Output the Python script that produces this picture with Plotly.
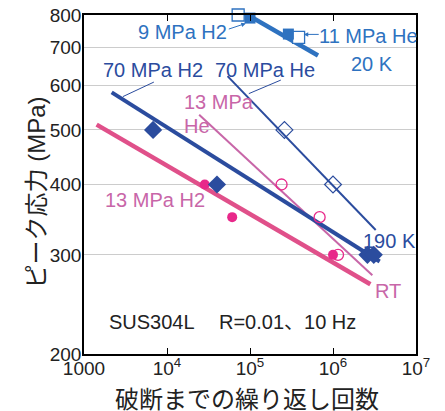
import numpy as np
import plotly.graph_objects as go

# ---- data ----
# 20 K
k20_h2_x = [1.0e5, 2.9e5]
k20_h2_y = [790, 740]
k20_he_x = [7.2e4, 3.85e5]
k20_he_y = [800, 730]
k20_fit_x = [6.27e4, 6.6e5]
k20_fit_y = [828, 678]

# 190 K, 70 MPa
k190_h2_x = [6.8e3, 4.0e4, 2.6e6, 3.1e6]
k190_h2_y = [500, 400, 300, 300]
k190_h2_fit_x = [2155, 3.65e6]
k190_h2_fit_y = [583, 292]
k190_he_x = [2.6e5, 1.0e6]
k190_he_y = [500, 400]
k190_he_fit_x = [5.36e4, 3.27e6]
k190_he_fit_y = [623, 332]

# RT, 13 MPa
rt_he_x = [2.4e5, 6.9e5, 1.15e6]
rt_he_y = [400, 350, 300]
rt_he_fit_x = [2.44e4, 2.98e6]
rt_he_fit_y = [532, 276]
rt_h2_x = [2.85e4, 6.1e4, 1.0e6]
rt_h2_y = [400, 350, 300]
rt_h2_fit_x = [1.42e3, 2.82e6]
rt_h2_fit_y = [511, 266]

x_tickvals = [1e3, 1e4, 1e5, 1e6, 1e7]
x_ticktext = ["1000", "10<sup>4</sup>", "10<sup>5</sup>", "10<sup>6</sup>", "10<sup>7</sup>"]
y_tickvals = [200, 300, 400, 500, 600, 700, 800]
x_title = "破断までの繰り返し回数"
y_title = "ピーク応力 (MPa)"

BLUE = "#2E72C0"
DBLUE = "#2B4C9E"
PINK = "#E0508A"
ORCHID = "#C866A8"
CPINK = "#E8288A"

FONT = "Liberation Sans, Arial, Noto Sans CJK JP, sans-serif"

fig = go.Figure()

# fit lines
fig.add_trace(go.Scatter(x=rt_h2_fit_x, y=rt_h2_fit_y, mode="lines",
                         line=dict(color=PINK, width=4.5), showlegend=False))
fig.add_trace(go.Scatter(x=rt_he_fit_x, y=rt_he_fit_y, mode="lines",
                         line=dict(color=ORCHID, width=2), showlegend=False))
fig.add_trace(go.Scatter(x=k190_h2_fit_x, y=k190_h2_fit_y, mode="lines",
                         line=dict(color=DBLUE, width=4), showlegend=False))
fig.add_trace(go.Scatter(x=k190_he_fit_x, y=k190_he_fit_y, mode="lines",
                         line=dict(color=DBLUE, width=2), showlegend=False))
fig.add_trace(go.Scatter(x=k20_fit_x, y=k20_fit_y, mode="lines",
                         line=dict(color=BLUE, width=4.5), showlegend=False))

# markers
fig.add_trace(go.Scatter(x=rt_h2_x, y=rt_h2_y, mode="markers", cliponaxis=False,
                         marker=dict(symbol="circle", size=10, color=CPINK),
                         showlegend=False))
fig.add_trace(go.Scatter(x=rt_he_x, y=rt_he_y, mode="markers", cliponaxis=False,
                         marker=dict(symbol="circle-open", size=11, color=CPINK,
                                     line=dict(width=1.3)),
                         showlegend=False))
fig.add_trace(go.Scatter(x=k190_h2_x, y=k190_h2_y, mode="markers", cliponaxis=False,
                         marker=dict(symbol="diamond", size=14, color=DBLUE),
                         showlegend=False))
fig.add_trace(go.Scatter(x=k190_he_x, y=k190_he_y, mode="markers", cliponaxis=False,
                         marker=dict(symbol="diamond-open", size=13, color=DBLUE,
                                     line=dict(width=1.2)),
                         showlegend=False))
fig.add_trace(go.Scatter(x=k20_he_x, y=k20_he_y, mode="markers", cliponaxis=False,
                         marker=dict(symbol="square", size=12, color="white",
                                     line=dict(color=BLUE, width=1.3)),
                         showlegend=False))
fig.add_trace(go.Scatter(x=k20_h2_x, y=k20_h2_y, mode="markers", cliponaxis=False,
                         marker=dict(symbol="square", size=11, color=BLUE),
                         showlegend=False))

L = np.log10
ann = []


def txt(t, x, y, color, xanchor="center", size=20):
    ann.append(dict(text=t, x=L(x), y=L(y), xref="x", yref="y", showarrow=False,
                    xanchor=xanchor, yanchor="middle",
                    font=dict(family=FONT, size=size, color=color)))


def arrow(x, y, ax, ay, color, head):
    ann.append(dict(text=".", x=L(x), y=L(y), xref="x", yref="y", showarrow=True,
                    ax=ax, ay=ay, arrowhead=head, arrowsize=0.9, arrowwidth=1,
                    arrowcolor=color, standoff=0, startstandoff=0, borderpad=0,
                    font=dict(size=1, color="rgba(0,0,0,0)")))


txt("9 MPa H2", 15300, 746, BLUE)
txt("11 MPa He", 2.69e6, 733, BLUE)
txt("20 K", 2.92e6, 655, BLUE)
txt("70 MPa H2", 6760, 638, DBLUE)
txt("70 MPa He", 1.53e5, 640, DBLUE)
txt("13 MPa", 15100, 560, ORCHID, xanchor="left")
txt("He", 15100, 509, ORCHID, xanchor="left")
txt("13 MPa H2", 7140, 376, ORCHID)
txt("190 K", 4.8e6, 318, DBLUE)
txt("RT", 4.55e6, 259, ORCHID)
txt("SUS304L", 6530, 228, "#222222")
txt("R=0.01、10 Hz", 2.85e5, 228, "#222222")

arrow(8.9e4, 773, -18, 6, BLUE, 2)
arrow(4.44e5, 739, 16, 0, BLUE, 2)
arrow(2940, 573, 32, -15, DBLUE, 0)
arrow(9.68e4, 580, 33, -14, DBLUE, 0)

# axis titles as paper-anchored text
ann.append(dict(text=x_title, x=0.5, y=0, xref="paper", yref="paper",
                xanchor="center", yanchor="middle", xshift=-3, yshift=-45,
                showarrow=False, font=dict(family=FONT, size=24, color="#222222")))
ann.append(dict(text=y_title, x=-48 / 332, y=0.5, xref="paper", yref="paper",
                xanchor="center", yanchor="middle", yshift=-8,
                textangle=-90, showarrow=False,
                font=dict(family=FONT, size=24, color="#222222")))

# the page body has an 8 px margin, so the figure is sized/offset to compensate
fig.update_layout(
    width=437, height=403,
    margin=dict(l=76, r=29, t=7, b=57, autoexpand=False),
    paper_bgcolor="white", plot_bgcolor="white",
    font=dict(family=FONT, size=19, color="#222222"),
    annotations=ann,
    xaxis=dict(type="log", range=[3, 7], tickvals=x_tickvals, ticktext=x_ticktext,
               automargin=False, ticklabeloverflow="allow", ticklabelstandoff=-4,
               showgrid=False, zeroline=False, showline=True, linecolor="black",
               linewidth=1.5, mirror="ticks", ticks="inside", ticklen=6,
               tickcolor="black", tickwidth=1,
               tickfont=dict(family=FONT, size=19, color="#222222")),
    yaxis=dict(type="log", range=[L(200), L(800)], tickvals=y_tickvals,
               automargin=False, ticklabeloverflow="allow", ticklabelstandoff=-3,
               showgrid=True, gridcolor="#CCCCCC", gridwidth=1, zeroline=False,
               showline=True, linecolor="black", linewidth=1.5, mirror=True,
               ticks="", tickfont=dict(family=FONT, size=19, color="#222222")),
)

fig.write_html("out.html")
